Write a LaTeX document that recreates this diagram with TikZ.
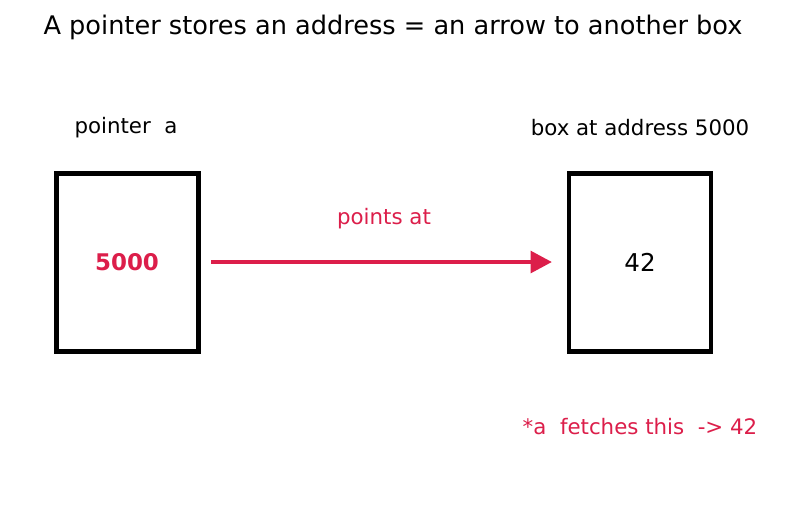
\documentclass[tikz,border=0pt]{standalone}
\usepackage{fontspec}
\setmainfont{DejaVu Sans}
\usetikzlibrary{arrows.meta}
\definecolor{ptr}{HTML}{DC1E4A}
\begin{document}
\begin{tikzpicture}[x=0.75pt,y=-0.75pt,
  cell/.style={draw=black,line width=3.6pt,minimum width=106.5pt,minimum height=133.5pt,inner sep=0pt},
  lbl/.style={font=\fontsize{16pt}{19pt}\selectfont,inner sep=0pt,anchor=center}]
\useasboundingbox[fill=white] (0,0) rectangle (787,512);
\node[inner sep=0pt,font=\fontsize{19.2pt}{23pt}\selectfont] (title) at (393,27) {A pointer stores an address = an arrow to another box};
\node[cell] (a) at (127.5,262.5) {};
\node[cell] (b) at (640,262.5) {};
\node[lbl] (la) at (126,127.5) {pointer\ \ a};
\node[lbl] (lb) at (640,127.5) {box at address 5000};
\node[font=\fontsize{17.2pt}{20pt}\selectfont\bfseries,text=ptr,inner sep=0pt] (v) at (127,262) {5000};
\node[font=\fontsize{18.4pt}{22pt}\selectfont,inner sep=0pt] (w) at (640,262) {42};
\coordinate (s) at (211,262);
\coordinate (e) at (552,262);
\draw[ptr,line width=3.4pt,-{Triangle[length=16pt,width=16pt]}] (s) -- (e);
\node[lbl,text=ptr] (pa) at (384,218.5) {points at};
\node[lbl,text=ptr] (f) at (640,426.5) {*a\ \ fetches this\ \ -> 42};
\end{tikzpicture}
\end{document}
